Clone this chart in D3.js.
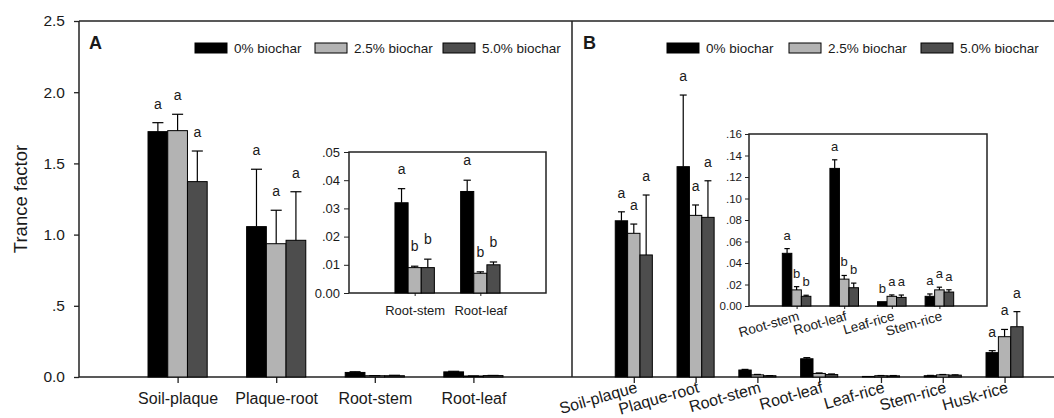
<!DOCTYPE html>
<html>
<head>
<meta charset="utf-8">
<script src="https://cdn.jsdelivr.net/npm/d3@7"></script>
<style>
  body { margin: 0; background: #fff; }
  text { font-family: "Liberation Sans", Arial, sans-serif; fill: #1a1a1a; }
</style>
</head>
<body>
<div id="chart"></div>
<script>
// series
const seriesNames = ['0% biochar', '2.5% biochar', '5.0% biochar']
const seriesColors = ['#000000', '#b3b3b3', '#4d4d4d']

// panel A
const catA = ['Soil-plaque', 'Plaque-root', 'Root-stem', 'Root-leaf']
const meanA = [[1.723, 1.730, 1.372], [1.056, 0.936, 0.960], [0.032, 0.009, 0.009], [0.036, 0.007, 0.010]]
const seA = [[0.063, 0.115, 0.215], [0.403, 0.235, 0.341], [0.005, 0.0005, 0.003], [0.004, 0.0005, 0.001]]
const letA = [['a', 'a', 'a'], ['a', 'a', 'a'], null, null]
// inset A shows Root-stem and Root-leaf
const insetCatA = ['Root-stem', 'Root-leaf']
const insetLetA = [['a', 'b', 'b'], ['a', 'b', 'b']]

// panel B
const catB = ['Soil-plaque', 'Plaque-root', 'Root-stem', 'Root-leaf', 'Leaf-rice', 'Stem-rice', 'Husk-rice']
const meanB = [[1.097, 1.009, 0.857], [1.477, 1.135, 1.121], [0.049, 0.015, 0.009], [0.128, 0.025, 0.017],
  [0.004, 0.009, 0.008], [0.009, 0.015, 0.013], [0.171, 0.283, 0.353]]
const seB = [[0.063, 0.065, 0.421], [0.503, 0.073, 0.257], [0.0044, 0.003, 0.001], [0.008, 0.0034, 0.0043],
  [0, 0.0013, 0.0022], [0.0022, 0.0025, 0.0021], [0.014, 0.051, 0.106]]
const letB = [['a', 'a', 'a'], ['a', 'a', 'a'], null, null, null, null, ['a', 'a', 'a']]
const insetCatB = ['Root-stem', 'Root-leaf', 'Leaf-rice', 'Stem-rice']
const insetLetB = [['a', 'b', 'b'], ['a', 'b', 'b'], ['b', 'a', 'a'], ['a', 'a', 'a']]

// ticks
const yTicks = [0, 0.5, 1.0, 1.5, 2.0, 2.5]
const yTickLabels = ['0.0', '.5', '1.0', '1.5', '2.0', '2.5']
const insetATicks = [0, 0.01, 0.02, 0.03, 0.04, 0.05]
const insetATickLabels = ['0.00', '.01', '.02', '.03', '.04', '.05']
const insetBTicks = [0, 0.02, 0.04, 0.06, 0.08, 0.10, 0.12, 0.14, 0.16]
const insetBTickLabels = ['0.00', '.02', '.04', '.06', '.08', '.10', '.12', '.14', '.16']

const W = 1054, H = 418
const svg = d3.select('#chart').append('svg').attr('width', W).attr('height', H)

const pLeft = 79, pTop = 21, pBottom = 377, pMid = 572

const y = d3.scaleLinear().domain([0, 2.5]).range([pBottom, pTop])
const xA = d3.scaleLinear().domain([0, 5]).range([pLeft, pMid])
const xB = d3.scaleLinear().domain([0, 7.8]).range([pMid, W])

// draws grouped bars, upper error bars and letters
const drawBars = (g, x, yS, idx, means, ses, letters, opt) => {
  const bw = x(0.2) - x(0)
  idx.forEach((ci, k) => {
    const cx = x(k + 1)
    means[ci].forEach((v, s) => {
      const bx = cx + (s - 1.5) * bw
      g.append('rect')
        .attr('x', bx).attr('y', yS(v))
        .attr('width', bw).attr('height', yS(0) - yS(v))
        .attr('fill', seriesColors[s])
        .attr('stroke', '#000').attr('stroke-width', 1)
      const e = ses[ci][s]
      const ex = bx + bw / 2
      if (e > 0) {
        g.append('line').attr('x1', ex).attr('x2', ex)
          .attr('y1', yS(v)).attr('y2', yS(v + e))
          .attr('stroke', '#000').attr('stroke-width', 1.2)
        g.append('line').attr('x1', ex - bw * 0.28).attr('x2', ex + bw * 0.28)
          .attr('y1', yS(v + e)).attr('y2', yS(v + e))
          .attr('stroke', '#000').attr('stroke-width', 1.2)
      }
      const l = letters && letters[k]
      if (l) {
        g.append('text').attr('x', ex).attr('y', yS(v + e) - opt.gap)
          .attr('text-anchor', 'middle').attr('font-size', opt.letterSize).text(l[s])
      }
    })
  })
}

const g = svg.append('g')

// frame
const frame = [[pLeft, pTop, W, pTop], [pLeft, pBottom, W, pBottom], [pLeft, pTop, pLeft, pBottom], [pMid, pTop, pMid, pBottom]]
frame.forEach(f => g.append('line').attr('x1', f[0]).attr('y1', f[1]).attr('x2', f[2]).attr('y2', f[3])
  .attr('stroke', '#222').attr('stroke-width', 1.5))

// y axis
const yAx = g.append('g').attr('transform', `translate(${pLeft},0)`)
  .call(d3.axisLeft(y).tickValues(yTicks).tickSize(5).tickPadding(9).tickFormat((d, i) => yTickLabels[i]))
yAx.select('.domain').remove()
yAx.selectAll('line').attr('stroke', '#222').attr('stroke-width', 1.3)
yAx.selectAll('text').attr('font-size', 15.5).attr('fill', '#1a1a1a')

g.append('text').attr('transform', `translate(27,${(pTop + pBottom) / 2}) rotate(-90)`)
  .attr('text-anchor', 'middle').attr('font-size', 18.5).text('Trance factor')

// x axis A
const xAxA = g.append('g').attr('transform', `translate(0,${pBottom})`)
  .call(d3.axisBottom(xA).tickValues(d3.range(1, catA.length + 1)).tickSize(6).tickPadding(10).tickFormat((d, i) => catA[i]))
xAxA.select('.domain').remove()
xAxA.selectAll('line').attr('stroke', '#222').attr('stroke-width', 1.3)
xAxA.selectAll('text').attr('font-size', 16).attr('fill', '#1a1a1a')

// x axis B
const xAxB = g.append('g').attr('transform', `translate(0,${pBottom})`)
  .call(d3.axisBottom(xB).tickValues(d3.range(1, catB.length + 1)).tickSize(6).tickFormat((d, i) => catB[i]))
xAxB.select('.domain').remove()
xAxB.selectAll('line').attr('stroke', '#222').attr('stroke-width', 1.3)
xAxB.selectAll('text').attr('font-size', 16).attr('fill', '#1a1a1a')
  .attr('text-anchor', 'end').attr('dy', null).attr('y', null)
  .attr('transform', 'translate(4,15) rotate(-16)')

drawBars(g, xA, y, d3.range(catA.length), meanA, seA, letA, { gap: 14, letterSize: 14 })
drawBars(g, xB, y, d3.range(catB.length), meanB, seB, letB, { gap: 14, letterSize: 14 })

// inset A
const iyA = d3.scaleLinear().domain([0, 0.05]).range([293, 152])
const ixA = d3.scaleLinear().domain([0, 3]).range([349, 546])
const inA = svg.append('g')
inA.append('rect').attr('x', ixA(0)).attr('y', iyA(0.05)).attr('width', ixA(3) - ixA(0)).attr('height', iyA(0) - iyA(0.05))
  .attr('fill', '#fff').attr('stroke', '#222').attr('stroke-width', 1.5)
const iyAx = inA.append('g').attr('transform', `translate(${ixA(0)},0)`)
  .call(d3.axisLeft(iyA).tickValues(insetATicks).tickSize(5).tickPadding(4).tickFormat((d, i) => insetATickLabels[i]))
iyAx.select('.domain').remove()
iyAx.selectAll('line').attr('stroke', '#222')
iyAx.selectAll('text').attr('font-size', 13).attr('fill', '#1a1a1a')
const ixAx = inA.append('g').attr('transform', `translate(0,${iyA(0)})`)
  .call(d3.axisBottom(ixA).tickValues([1, 2]).tickSize(3).tickPadding(10).tickFormat((d, i) => insetCatA[i]))
ixAx.select('.domain').remove()
ixAx.selectAll('line').attr('stroke', '#222')
ixAx.selectAll('text').attr('font-size', 13).attr('fill', '#1a1a1a')
drawBars(inA, ixA, iyA, [2, 3], meanA, seA, insetLetA, { gap: 15, letterSize: 14 })

// inset B
const iyB = d3.scaleLinear().domain([0, 0.16]).range([306, 134])
const ixB = d3.scaleLinear().domain([0, 5]).range([749, 987])
const inB = svg.append('g')
inB.append('rect').attr('x', ixB(0)).attr('y', iyB(0.16)).attr('width', ixB(5) - ixB(0)).attr('height', iyB(0) - iyB(0.16))
  .attr('fill', '#fff').attr('stroke', '#222').attr('stroke-width', 1.5)
const iyBx = inB.append('g').attr('transform', `translate(${ixB(0)},0)`)
  .call(d3.axisLeft(iyB).tickValues(insetBTicks).tickSize(4).tickPadding(3).tickFormat((d, i) => insetBTickLabels[i]))
iyBx.select('.domain').remove()
iyBx.selectAll('line').attr('stroke', '#222')
iyBx.selectAll('text').attr('font-size', 11.5).attr('fill', '#1a1a1a')
const ixBx = inB.append('g').attr('transform', `translate(0,${iyB(0)})`)
  .call(d3.axisBottom(ixB).tickValues([1, 2, 3, 4]).tickSize(3).tickFormat((d, i) => insetCatB[i]))
ixBx.select('.domain').remove()
ixBx.selectAll('line').attr('stroke', '#222')
ixBx.selectAll('text').attr('font-size', 13.5).attr('fill', '#1a1a1a')
  .attr('text-anchor', 'end').attr('dy', null).attr('y', null)
  .attr('transform', 'translate(3,14) rotate(-16)')
drawBars(inB, ixB, iyB, [2, 3, 4, 5], meanB, seB, insetLetB, { gap: 9, letterSize: 13 })

// panel letters and legends
const drawLegend = (x0, label, pos) => {
  svg.append('text').attr('x', x0).attr('y', 49).attr('font-size', 18).attr('font-weight', 'bold').text(label)
  seriesNames.forEach((n, i) => {
    svg.append('rect').attr('x', pos[i]).attr('y', 43).attr('width', 32).attr('height', 10)
      .attr('fill', seriesColors[i]).attr('stroke', '#000').attr('stroke-width', 1)
    svg.append('text').attr('x', pos[i] + 39).attr('y', 53).attr('font-size', 13.5).text(n)
  })
}
drawLegend(89, 'A', [195, 315, 443])
drawLegend(583, 'B', [667, 789, 921])
</script>
</body>
</html>
